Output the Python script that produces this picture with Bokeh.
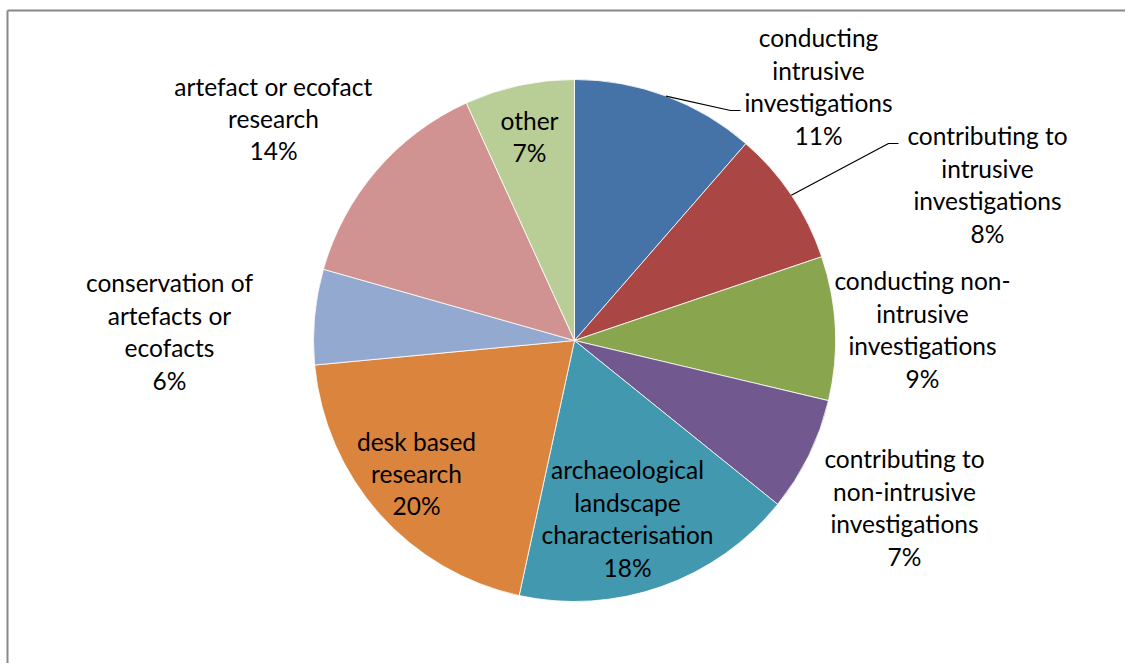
import math
from bokeh.plotting import figure
from bokeh.models import Range1d, ColumnDataSource
from bokeh.embed import file_html
from bokeh.resources import INLINE
from bokeh.core.properties import value

# ---- data ----
categories = [
    "conducting\nintrusive\ninvestigations",
    "contributing to\nintrusive\ninvestigations",
    "conducting non-\nintrusive\ninvestigations",
    "contributing to\nnon-intrusive\ninvestigations",
    "archaeological\nlandscape\ncharacterisation",
    "desk based\nresearch",
    "conservation of\nartefacts or\necofacts",
    "artefact or ecofact\nresearch",
    "other",
]
shares = [11.4, 8.4, 8.9, 7.1, 17.6, 20.1, 5.9, 13.8, 6.8]
colors = ["#4572A7", "#AA4643", "#89A54E", "#71588F", "#4198AF",
          "#DB843D", "#93A9CF", "#D19392", "#B9CD96"]

# ---- layout (picture pixel coordinates) ----
W, H = 1125, 663
CX, CY, R = 574, 340, 261
label_centers = [(818, 86), (987, 184), (922, 329), (904, 507), (627, 518),
                 (416, 473), (169, 331), (273, 118), (529, 136)]
leader = {0: [(730, 110), (740, 110)], 1: [(888, 143), (898, 143)]}
LINE_STEP = 32.4
FONT = "Lato"
FSIZE = "24.5px"

p = figure(width=W, height=H, output_backend="svg", toolbar_location=None,
           x_range=Range1d(0, W), y_range=Range1d(-H, 0),
           x_axis_type=None, y_axis_type=None, min_border=0,
           outline_line_color=None, background_fill_color="white")
p.grid.visible = False

total = sum(shares)
starts, ends, mids = [], [], []
cum = 0.0
for s in shares:
    a0 = cum / total * 2 * math.pi
    cum += s
    a1 = cum / total * 2 * math.pi
    starts.append(math.pi / 2 - a0)
    ends.append(math.pi / 2 - a1)
    mids.append((a0 + a1) / 2)

src = ColumnDataSource(dict(start=starts, end=ends, color=colors))
p.wedge(x=CX, y=-CY, radius=R, start_angle="start", end_angle="end",
        direction="clock", fill_color="color", line_color="white",
        line_width=0.8, source=src)

# leader lines
for i, pts in leader.items():
    sx = CX + R * math.sin(mids[i])
    sy = CY - R * math.cos(mids[i])
    xs = [sx] + [q[0] for q in pts]
    ys = [-sy] + [-q[1] for q in pts]
    p.line(xs, ys, line_color="black", line_width=1.2)

# labels
tx, ty, tt = [], [], []
for name, s, (lx, ly) in zip(categories, shares, label_centers):
    lines = name.split("\n") + [f"{round(s / total * 100)}%"]
    n = len(lines)
    for k, t in enumerate(lines):
        tx.append(lx)
        ty.append(-(ly + (k - (n - 1) / 2) * LINE_STEP))
        tt.append(t)
p.text(x=tx, y=ty, text=tt, text_align="center", text_baseline="middle",
       text_font=value(FONT), text_font_size=FSIZE, text_color="black")

# chart-area border (left and top visible)
p.line([7, W], [-10, -10], line_color="#888888", line_width=2)
p.line([7, 7], [-10, -H], line_color="#888888", line_width=2)

open("out.html", "w").write(file_html(p, INLINE))
